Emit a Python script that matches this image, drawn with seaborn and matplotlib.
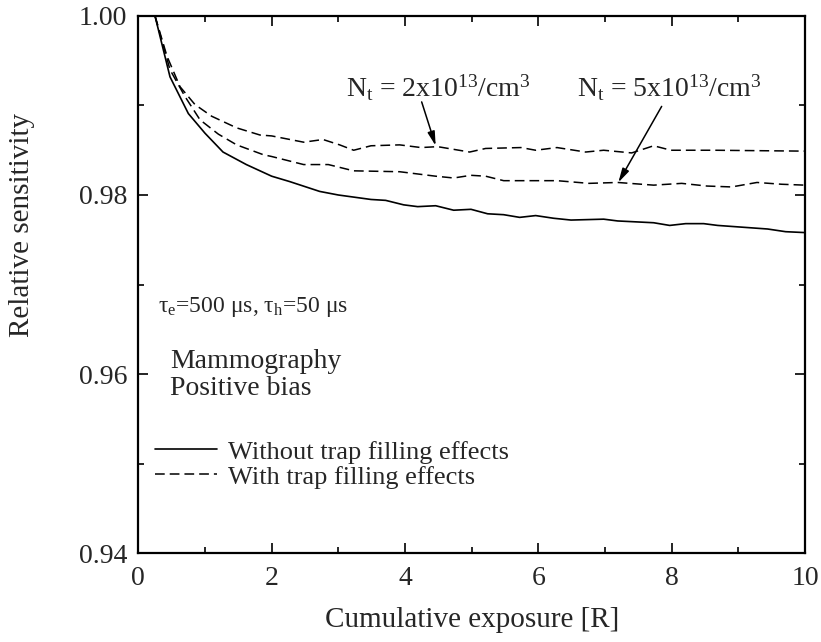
import matplotlib
matplotlib.use("Agg")
import matplotlib.pyplot as plt
from matplotlib.ticker import AutoMinorLocator, FormatStrFormatter
import pandas as pd
import seaborn as sns

# Relative sensitivity vs. cumulative exposure (mammography, positive bias)
exp_no_fill = [0.25, 0.475, 0.75, 1.0, 1.27, 1.62, 2.0, 2.27, 2.72, 3.0, 3.49, 3.71,
               3.98, 4.19, 4.46, 4.73, 4.99, 5.24, 5.48, 5.72, 5.96, 6.23, 6.49, 6.98,
               7.19, 7.73, 7.97, 8.21, 8.48, 8.69, 9.44, 9.71, 10.0]
sens_no_fill = [1.0, 0.9932, 0.9891, 0.9869, 0.9848, 0.9834, 0.9821, 0.9815, 0.9804,
                0.9800, 0.9795, 0.9794, 0.9789, 0.9787, 0.9788, 0.9783, 0.9784, 0.9779,
                0.9778, 0.9775, 0.9777, 0.9774, 0.9772, 0.9773, 0.9771, 0.9769, 0.9766,
                0.9768, 0.9768, 0.9766, 0.9762, 0.9759, 0.9758]

# With trap filling, Nt = 2x10^13 /cm^3
exp_fill_2e13 = [0.25, 0.43, 0.625, 0.85, 1.1, 1.475, 1.825, 2.0, 2.48, 2.77, 3.02,
                 3.23, 3.49, 3.92, 4.24, 4.49, 4.97, 5.21, 5.74, 5.96, 6.28, 6.71,
                 6.98, 7.40, 7.73, 7.99, 8.64, 10.0]
sens_fill_2e13 = [1.0, 0.9955, 0.9921, 0.9901, 0.9888, 0.9875, 0.9867, 0.9866, 0.9859,
                  0.9862, 0.9856, 0.9850, 0.9855, 0.9856, 0.9853, 0.9854, 0.9848,
                  0.9852, 0.9853, 0.9850, 0.9853, 0.9848, 0.9850, 0.9847, 0.9855,
                  0.9850, 0.9850, 0.9849]

# With trap filling, Nt = 5x10^13 /cm^3
exp_fill_5e13 = [0.25, 0.475, 0.70, 0.925, 1.2, 1.475, 1.875, 2.0, 2.48, 2.85, 3.23,
                 3.92, 4.46, 4.73, 4.99, 5.21, 5.48, 6.28, 6.76, 7.19, 7.73, 8.15,
                 8.53, 8.90, 9.28, 9.65, 10.0]
sens_fill_5e13 = [1.0, 0.9940, 0.9910, 0.9884, 0.9868, 0.9856, 0.9845, 0.9843, 0.9834,
                  0.9834, 0.9827, 0.9826, 0.9821, 0.9819, 0.9822, 0.9821, 0.9816,
                  0.9816, 0.9813, 0.9814, 0.9811, 0.9813, 0.9810, 0.9809, 0.9814,
                  0.9812, 0.9811]

x_ticks = [0, 2, 4, 6, 8, 10]
y_ticks = [0.94, 0.96, 0.98, 1.00]
legend_labels = ["Without trap filling effects", "With trap filling effects"]
nt_labels = [r"N$_\mathregular{t}$ = 2x10$^\mathregular{13}$/cm$^\mathregular{3}$",
             r"N$_\mathregular{t}$ = 5x10$^\mathregular{13}$/cm$^\mathregular{3}$"]
lifetime_label = r"τ$_\mathregular{e}$=500 μs, τ$_\mathregular{h}$=50 μs"
condition_labels = ["Mammography", "Positive bias"]

sns.set_theme(style="ticks")
plt.rcParams["font.family"] = ["Liberation Serif", "DejaVu Serif"]
plt.rcParams["mathtext.fontset"] = "custom"
plt.rcParams["mathtext.rm"] = "Liberation Serif"
plt.rcParams["mathtext.it"] = "Liberation Serif:italic"
plt.rcParams["lines.scale_dashes"] = False

fig = plt.figure(figsize=(8.21, 6.42), dpi=100)
ax = fig.add_axes([0.1685, 0.1386, 0.812, 0.8365])

df_none = pd.DataFrame({"exposure": exp_no_fill, "sensitivity": sens_no_fill})
df_2 = pd.DataFrame({"exposure": exp_fill_2e13, "sensitivity": sens_fill_2e13})
df_5 = pd.DataFrame({"exposure": exp_fill_5e13, "sensitivity": sens_fill_5e13})

dash = (7.0, 3.6)
sns.lineplot(data=df_none, x="exposure", y="sensitivity", ax=ax, color="black",
             linewidth=1.2, estimator=None, sort=False)
sns.lineplot(data=df_2, x="exposure", y="sensitivity", ax=ax, color="black",
             linewidth=1.1, estimator=None, sort=False)
ax.lines[-1].set_dashes(dash)
sns.lineplot(data=df_5, x="exposure", y="sensitivity", ax=ax, color="black",
             linewidth=1.1, estimator=None, sort=False)
ax.lines[-1].set_dashes(dash)

ax.set_xlim(0, 10)
ax.set_ylim(0.94, 1.00)
ax.set_xticks(x_ticks)
ax.set_yticks(y_ticks)
ax.yaxis.set_major_formatter(FormatStrFormatter("%.2f"))
ax.xaxis.set_minor_locator(AutoMinorLocator(2))
ax.yaxis.set_minor_locator(AutoMinorLocator(2))
ax.tick_params(which="both", direction="in", top=True, right=True, width=1.2,
               color="black")
ax.tick_params(which="major", length=7, labelsize=20, pad=9)
ax.tick_params(which="minor", length=4.5)
ax.tick_params(axis="y", pad=8)
for s in ax.spines.values():
    s.set_linewidth(1.6)
    s.set_color("black")

ax.set_xlabel("Cumulative exposure [R]", fontsize=21, labelpad=12)
ax.set_ylabel("Relative sensitivity", fontsize=21, va="center")
ax.yaxis.set_label_coords(-0.174, 0.611)

# Trap density labels with arrows to the curves
ax.text(3.11, 0.99095, nt_labels[0], fontsize=20, ha="left", va="baseline")
ax.text(6.58, 0.99095, nt_labels[1], fontsize=20, ha="left", va="baseline")
arrow = dict(arrowstyle="-|>,head_width=0.18,head_length=0.7", color="black",
             lw=1.1, shrinkA=0, shrinkB=0)
ax.annotate("", xy=(4.46, 0.9855), xytext=(4.25, 0.9904), arrowprops=arrow)
ax.annotate("", xy=(7.20, 0.9814), xytext=(7.85, 0.9899), arrowprops=arrow)

ax.text(0.30, 0.96696, lifetime_label, fontsize=17, ha="left", va="baseline")
ax.text(0.477, 0.9607, condition_labels[0], fontsize=20, ha="left", va="baseline")
ax.text(0.477, 0.95765, condition_labels[1], fontsize=20, ha="left", va="baseline")

leg = ax.legend([ax.lines[0], ax.lines[1]], legend_labels, loc="upper left",
                bbox_to_anchor=(0.025, 0.2100), frameon=False, fontsize=19,
                handlelength=2.35, handletextpad=0.4, borderpad=0,
                borderaxespad=0, labelspacing=0.05)

fig.savefig("out.png", dpi=100)
